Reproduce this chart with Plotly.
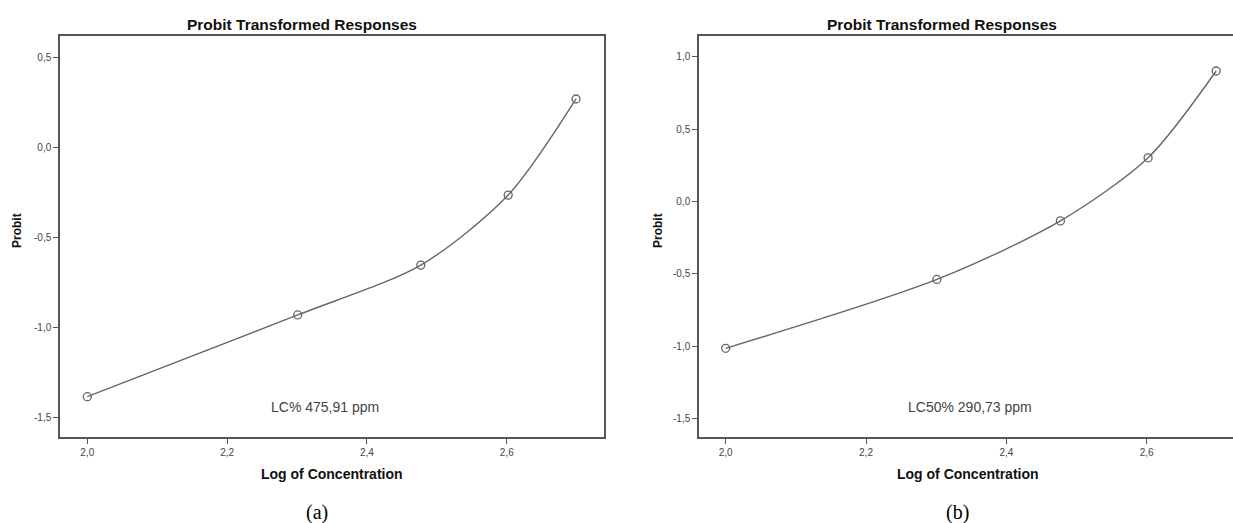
import plotly.graph_objects as go

# Data
log_conc = [2.0, 2.301, 2.477, 2.602, 2.699]
probit_a = [-1.387, -0.933, -0.656, -0.267, 0.267]
probit_b = [-1.014, -0.538, -0.133, 0.303, 0.903]
title_text = "Probit Transformed Responses"
x_title = "Log of Concentration"
y_title = "Probit"
note_a = "LC% 475,91 ppm"
note_b = "LC50% 290,73 ppm"
x_ticks = [2.0, 2.2, 2.4, 2.6]
x_tick_labels = ["2,0", "2,2", "2,4", "2,6"]
y_ticks_a = [-1.5, -1.0, -0.5, 0.0, 0.5]
y_tick_labels_a = ["-1,5", "-1,0", "-0,5", "0,0", "0,5"]
y_ticks_b = [-1.5, -1.0, -0.5, 0.0, 0.5, 1.0]
y_tick_labels_b = ["-1,5", "-1,0", "-0,5", "0,0", "0,5", "1,0"]

W, H = 1233, 523
def px(x):
    return x / W
def py(y):
    return 1 - y / H

line_col = "#666666"
frame_col = "#555555"
tick_font = dict(family="Liberation Sans, Arial", size=10, color="#444444")

fig = go.Figure()
for xs, ys, xa, ya in [(log_conc, probit_a, "x", "y"), (log_conc, probit_b, "x2", "y2")]:
    fig.add_trace(go.Scatter(
        x=xs, y=ys, xaxis=xa, yaxis=ya, mode="lines+markers",
        line=dict(shape="spline", smoothing=0.8, color=line_col, width=1.4),
        marker=dict(symbol="circle-open", size=8, color=line_col, line=dict(width=1.3)),
        showlegend=False, hoverinfo="x+y",
    ))

common_axis = dict(showgrid=False, zeroline=False, ticks="outside", ticklen=5,
                   tickwidth=1.3, tickcolor=frame_col, linecolor=frame_col, linewidth=1.5,
                   tickfont=tick_font, showline=True)

fig.update_layout(
    width=W, height=H, margin=dict(l=0, r=0, t=0, b=0),
    paper_bgcolor="white", plot_bgcolor="white",
    xaxis=dict(domain=[px(60), px(604)], range=[1.961, 2.739], tickvals=x_ticks,
               ticktext=x_tick_labels, anchor="y", mirror=True, **common_axis),
    yaxis=dict(domain=[py(437), py(36)], range=[-1.611, 0.617], tickvals=y_ticks_a,
               ticktext=y_tick_labels_a, anchor="x", mirror=True, **common_axis),
    xaxis2=dict(domain=[px(699), 1.0], range=[1.962, 2.723], tickvals=x_ticks,
                ticktext=x_tick_labels, anchor="y2", mirror=True, **common_axis),
    yaxis2=dict(domain=[py(437), py(36)], range=[-1.627, 1.145], tickvals=y_ticks_b,
                ticktext=y_tick_labels_b, anchor="x2", mirror=False, **common_axis),
)

ann = []
bold = dict(family="Liberation Sans, Arial", color="#111111")
for cx, xtcx, note, ncx, lab, lcx, ytcx in [(302, 332, note_a, 325, "(a)", 317, 17),
                                            (942, 968, note_b, 970, "(b)", 957, 658)]:
    ann.append(dict(text="<b>%s</b>" % title_text, x=px(cx), y=py(24), xref="paper", yref="paper",
                    showarrow=False, font=dict(size=15.5, **bold), xanchor="center", yanchor="middle"))
    ann.append(dict(text="<b>%s</b>" % x_title, x=px(xtcx), y=py(474),
                    xref="paper", yref="paper", showarrow=False,
                    font=dict(size=14, **bold), xanchor="center", yanchor="middle"))
    ann.append(dict(text="<b>%s</b>" % y_title, x=px(ytcx), y=py(231), xref="paper", yref="paper",
                    showarrow=False, textangle=-90, font=dict(size=12, **bold),
                    xanchor="center", yanchor="middle"))
    ann.append(dict(text=note, x=px(ncx), y=py(407), xref="paper", yref="paper", showarrow=False,
                    font=dict(family="Liberation Sans, Arial", size=14, color="#444444"),
                    xanchor="center", yanchor="middle"))
    ann.append(dict(text=lab, x=px(lcx), y=py(512), xref="paper", yref="paper", showarrow=False,
                    font=dict(family="Liberation Serif, Times New Roman", size=20, color="#000000"),
                    xanchor="center", yanchor="middle"))
fig.update_layout(annotations=ann)

fig.write_html("out.html")
